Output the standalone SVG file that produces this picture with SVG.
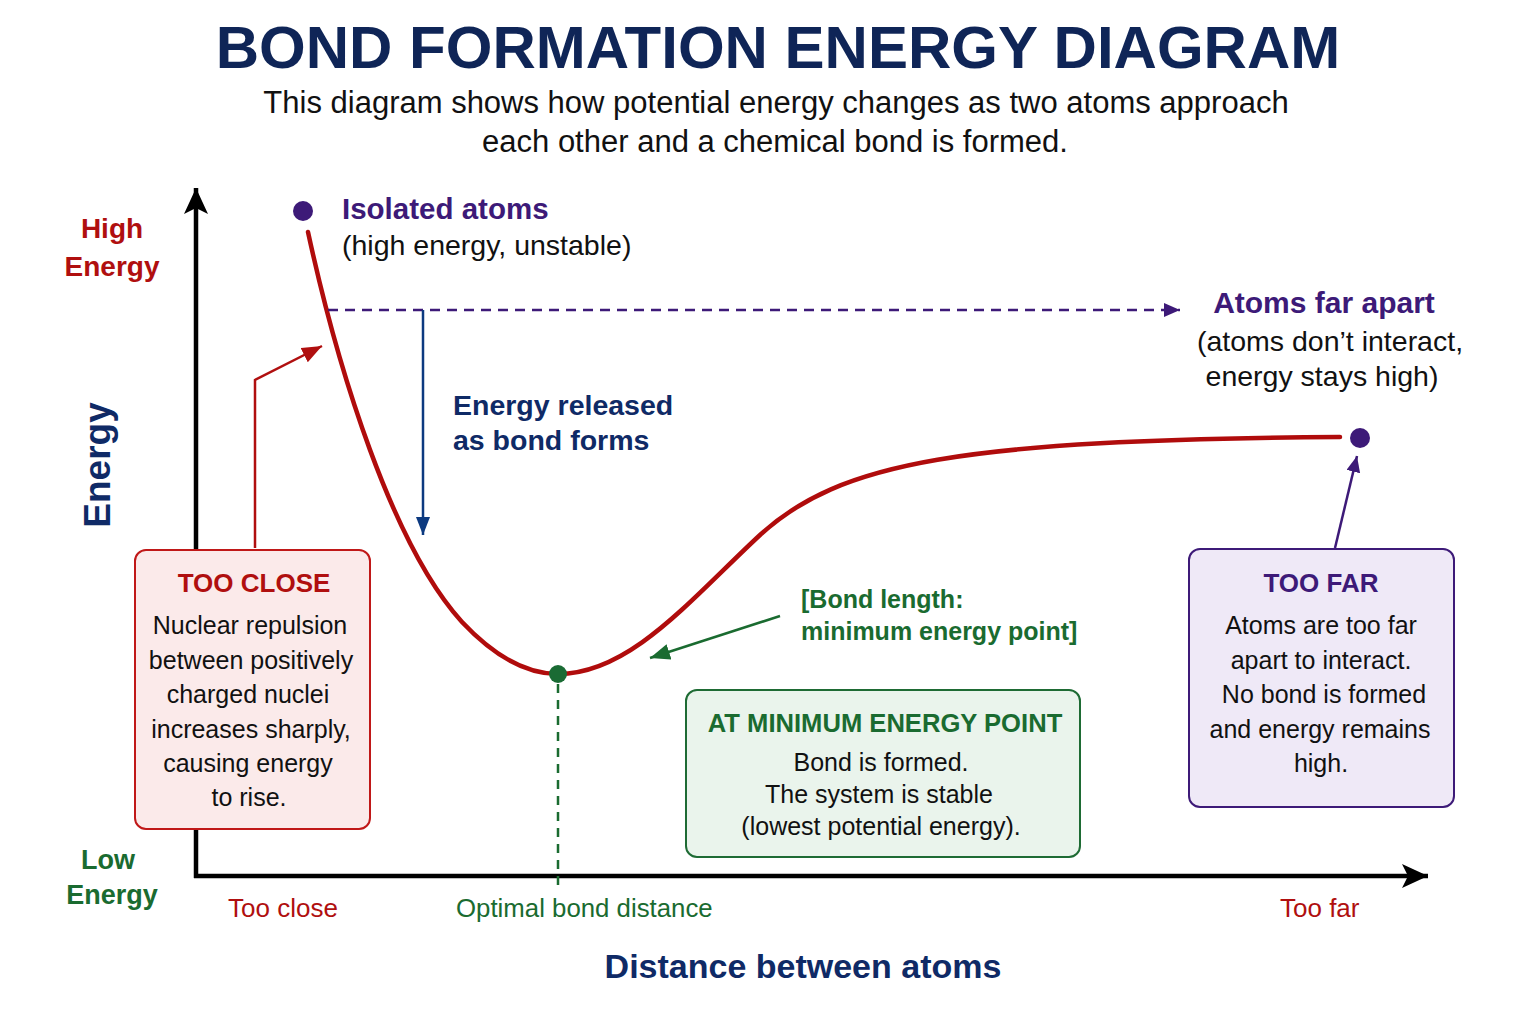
<svg xmlns="http://www.w3.org/2000/svg" width="1536" height="1024" viewBox="0 0 1536 1024">
<style>
  text { font-family: "Liberation Sans", Arial, sans-serif; }
  .title { font-size: 60px; font-weight: bold; fill: #0f2557; text-anchor: middle; }
  .sub { font-size: 31px; fill: #111; text-anchor: middle; }
  .body { font-size: 25px; fill: #111; text-anchor: middle; }
  .bodyL { font-size: 28.5px; fill: #111; }
  .red { fill: #b00f0f; }
  .green { fill: #1a6b30; }
  .purple { fill: #3d1a78; }
  .navy { fill: #0f2a66; }
  .b { font-weight: bold; }
  .mid { text-anchor: middle; }
</style>
<defs>
  <marker id="ahBlack" markerUnits="userSpaceOnUse" markerWidth="30" markerHeight="30" refX="26" refY="12" orient="auto">
    <path d="M0,0 L26,12 L0,24 L6,12 Z" fill="#000"/>
  </marker>
  <marker id="ahRed" markerUnits="userSpaceOnUse" markerWidth="24" markerHeight="24" refX="20" refY="8" orient="auto">
    <path d="M0,0 L20,8 L0,16 Z" fill="#b00f0f"/>
  </marker>
  <marker id="ahPurple" markerUnits="userSpaceOnUse" markerWidth="24" markerHeight="24" refX="16" refY="7" orient="auto">
    <path d="M0,0 L16,7 L0,14 Z" fill="#3d1a78"/>
  </marker>
  <marker id="ahBlue" markerUnits="userSpaceOnUse" markerWidth="24" markerHeight="24" refX="18" refY="7" orient="auto">
    <path d="M0,0 L18,7 L0,14 Z" fill="#0d3a80"/>
  </marker>
  <marker id="ahGreen" markerUnits="userSpaceOnUse" markerWidth="26" markerHeight="26" refX="20" refY="8" orient="auto">
    <path d="M0,0 L20,8 L0,16 Z" fill="#1a6b30"/>
  </marker>
</defs>
<rect width="1536" height="1024" fill="#ffffff"/>

<g id="title">
  <text class="title" x="778" y="68">BOND FORMATION ENERGY DIAGRAM</text>
  <text class="sub" x="776" y="113">This diagram shows how potential energy changes as two atoms approach</text>
  <text class="sub" x="775" y="152">each other and a chemical bond is formed.</text>
</g>

<g id="axes">
  <line x1="196" y1="878" x2="196" y2="188" stroke="#000" stroke-width="4.5" marker-end="url(#ahBlack)"/>
  <line x1="194" y1="876" x2="1428" y2="876" stroke="#000" stroke-width="4.5" marker-end="url(#ahBlack)"/>
  <text class="red b mid" x="112" y="238" font-size="28">High</text>
  <text class="red b mid" x="112" y="276" font-size="28">Energy</text>
  <text class="navy b mid" x="0" y="0" font-size="37" transform="translate(110,465) rotate(-90)">Energy</text>
  <text class="green b mid" x="108" y="869" font-size="27">Low</text>
  <text class="green b mid" x="112" y="904" font-size="27">Energy</text>
  <text class="red" x="228" y="917" font-size="26">Too close</text>
  <text class="green" x="456" y="917" font-size="25.8">Optimal bond distance</text>
  <text class="red" x="1280" y="917" font-size="26">Too far</text>
  <text class="navy b mid" x="803" y="978" font-size="34">Distance between atoms</text>
</g>

<g id="curve">
  <path d="M308,232 C338,370 392,545 462,622 C494,656 526,674 558,674 C630,674 690,600 760,535 C840,462 960,440 1340,437" fill="none" stroke="#b00c0c" stroke-width="4.5" stroke-linecap="round"/>
</g>

<g id="connectors">
  <line x1="328" y1="310" x2="1180" y2="310" stroke="#3d1a78" stroke-width="2.5" stroke-dasharray="10,7" marker-end="url(#ahPurple)"/>
  <line x1="423" y1="310" x2="423" y2="535" stroke="#0d3a80" stroke-width="2.5" marker-end="url(#ahBlue)"/>
  <polyline points="255,548 255,380 322,346" fill="none" stroke="#b00f0f" stroke-width="2.5" marker-end="url(#ahRed)"/>
  <line x1="1335" y1="548" x2="1357" y2="456" stroke="#3d1a78" stroke-width="2.5" marker-end="url(#ahPurple)"/>
  <line x1="780" y1="616" x2="650" y2="658" stroke="#1a6b30" stroke-width="2.5" marker-end="url(#ahGreen)"/>
  <line x1="558" y1="684" x2="558" y2="886" stroke="#1a6b30" stroke-width="2.5" stroke-dasharray="9,7"/>
</g>

<g id="isolated-atoms">
  <circle cx="303" cy="211" r="10" fill="#3d1a78"/>
  <text class="purple b" x="342" y="219" font-size="29.5">Isolated atoms</text>
  <text class="bodyL" x="342" y="255">(high energy, unstable)</text>
</g>

<g id="energy-released">
  <text class="navy b" x="453" y="415" font-size="28.5">Energy released</text>
  <text class="navy b" x="453" y="450" font-size="28.5">as bond forms</text>
</g>

<g id="atoms-far-apart">
  <text class="purple b mid" x="1324" y="313" font-size="30">Atoms far apart</text>
  <text class="bodyL mid" x="1330" y="351">(atoms don’t interact,</text>
  <text class="bodyL mid" x="1322" y="386">energy stays high)</text>
  <circle cx="1360" cy="438" r="10" fill="#3d1a78"/>
</g>

<g id="minimum-point">
  <circle cx="558" cy="674" r="9" fill="#1a6b34"/>
  <text class="green b" x="801" y="608" font-size="25">[Bond length:</text>
  <text class="green b" x="801" y="640" font-size="25">minimum energy point]</text>
</g>

<g id="too-close-box">
  <rect x="135" y="550" width="235" height="279" rx="11" fill="#fbeaea" stroke="#c01818" stroke-width="2"/>
  <text class="red b mid" x="254" y="592" font-size="26">TOO CLOSE</text>
  <text class="body" x="250" y="634">Nuclear repulsion</text>
  <text class="body" x="251" y="669">between positively</text>
  <text class="body" x="248" y="703">charged nuclei</text>
  <text class="body" x="251" y="738">increases sharply,</text>
  <text class="body" x="248" y="772">causing energy</text>
  <text class="body" x="249" y="806">to rise.</text>
</g>

<g id="too-far-box">
  <rect x="1189" y="549" width="265" height="258" rx="11" fill="#efe9f7" stroke="#3d1a78" stroke-width="2"/>
  <text class="purple b mid" x="1321" y="592" font-size="26">TOO FAR</text>
  <text class="body" x="1321" y="634">Atoms are too far</text>
  <text class="body" x="1321" y="669">apart to interact.</text>
  <text class="body" x="1324" y="703">No bond is formed</text>
  <text class="body" x="1320" y="738">and energy remains</text>
  <text class="body" x="1321" y="772">high.</text>
</g>

<g id="minimum-box">
  <rect x="686" y="690" width="394" height="167" rx="11" fill="#eaf4ec" stroke="#1e6b34" stroke-width="2"/>
  <text class="green b mid" x="885" y="732" font-size="25.6">AT MINIMUM ENERGY POINT</text>
  <text class="body" x="881" y="771" font-size="26">Bond is formed.</text>
  <text class="body" x="879" y="803" font-size="26">The system is stable</text>
  <text class="body" x="881" y="835" font-size="26">(lowest potential energy).</text>
</g>
</svg>
